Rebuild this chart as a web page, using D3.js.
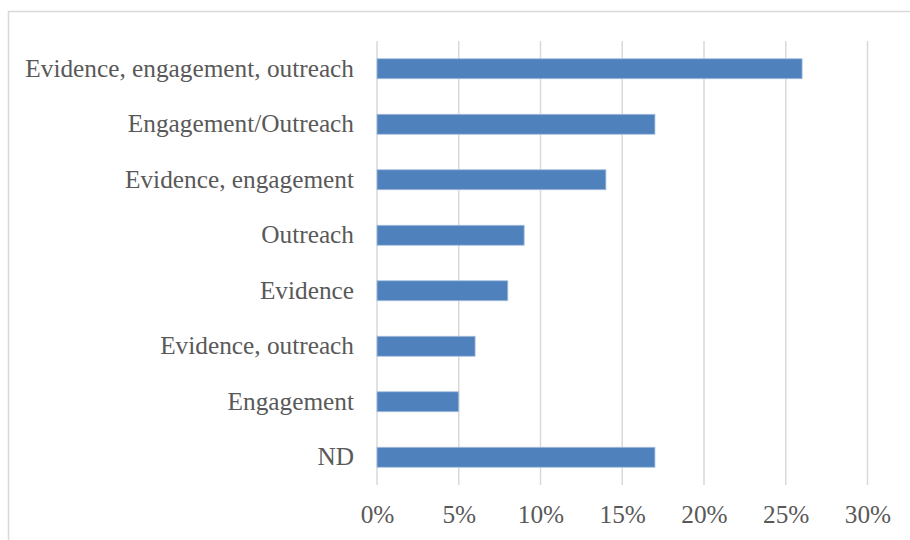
<!DOCTYPE html>
<html>
<head>
<meta charset="utf-8">
<script src="https://cdn.jsdelivr.net/npm/d3@7"></script>
<style>
  html, body { margin: 0; padding: 0; background: #fff; }
  svg { display: block; }
</style>
</head>
<body>
<svg id="chart" width="910" height="540"></svg>
<script>
// Share of items by category
const categories = [
  "Evidence, engagement, outreach",
  "Engagement/Outreach",
  "Evidence, engagement",
  "Outreach",
  "Evidence",
  "Evidence, outreach",
  "Engagement",
  "ND"
];
const values = [0.26, 0.17, 0.14, 0.09, 0.08, 0.06, 0.05, 0.17];
const tickValues = [0, 0.05, 0.10, 0.15, 0.20, 0.25, 0.30];

const svg = d3.select("#chart");
const fontFamily = "'Liberation Serif', 'DejaVu Serif', serif";
const fontSize = 25.3;
const textColor = "#595959";

// Chart frame
svg.append("rect")
  .attr("x", 8.5).attr("y", 11.5)
  .attr("width", 1000).attr("height", 1000)
  .attr("fill", "#fff")
  .attr("stroke", "#d9d9d9")
  .attr("stroke-width", 1.5);

const plot = { left: 377, right: 867.5, top: 41, bottom: 485 };

const x = d3.scaleLinear().domain([0, 0.30]).range([plot.left, plot.right]);
const y = d3.scaleBand().domain(categories).range([plot.top, plot.bottom]).paddingInner(0.64).paddingOuter(0.32);

// Vertical gridlines
svg.append("g")
  .selectAll("line")
  .data(tickValues)
  .join("line")
  .attr("x1", d => x(d)).attr("x2", d => x(d))
  .attr("y1", plot.top).attr("y2", plot.bottom)
  .attr("stroke", "#d9d9d9")
  .attr("stroke-width", 1.5);

// Bars
svg.append("g")
  .selectAll("rect")
  .data(categories)
  .join("rect")
  .attr("x", x(0))
  .attr("y", (d) => y(d))
  .attr("width", (d, i) => x(values[i]) - x(0))
  .attr("height", y.bandwidth())
  .attr("fill", "#4f81bd")
  .attr("stroke", "#a7c0de")
  .attr("stroke-width", 0.8);

// Category labels
const yAxis = d3.axisLeft(y).tickSize(0).tickPadding(23);
svg.append("g")
  .attr("transform", `translate(${plot.left},0)`)
  .call(yAxis)
  .call(g => g.select(".domain").remove())
  .call(g => g.selectAll("text")
    .attr("fill", textColor)
    .attr("font-family", fontFamily)
    .attr("font-size", fontSize));

// Percentage tick labels
const xAxis = d3.axisBottom(x).tickValues(tickValues).tickSize(0).tickPadding(0)
  .tickFormat(d3.format(".0%"));
svg.append("g")
  .attr("transform", `translate(0,${523 - 0.71 * fontSize})`)
  .call(xAxis)
  .call(g => g.select(".domain").remove())
  .call(g => g.selectAll("text")
    .attr("fill", textColor)
    .attr("font-family", fontFamily)
    .attr("font-size", fontSize));
</script>
</body>
</html>
